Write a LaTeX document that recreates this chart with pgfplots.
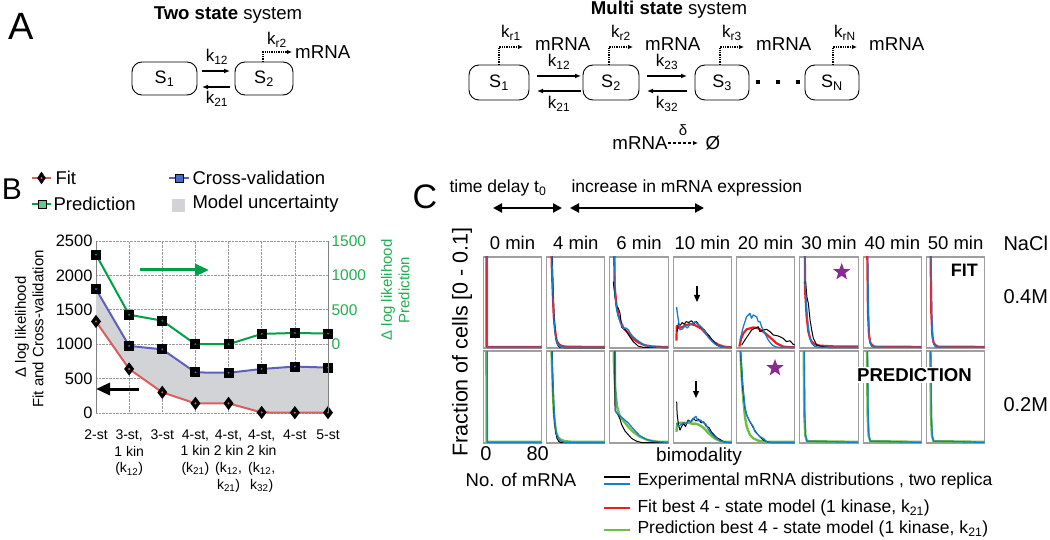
\documentclass[border=0pt]{standalone}
\usepackage{fontspec}
\setmainfont{Liberation Sans}
\usepackage{pgfplots}
\pgfplotsset{compat=1.18}
\usetikzlibrary{shapes.geometric,arrows.meta}
\definecolor{cgreen}{RGB}{0,160,70}
\definecolor{cgreenT}{RGB}{30,175,80}
\definecolor{cblue}{RGB}{95,95,190}
\definecolor{cred}{RGB}{215,95,95}
\definecolor{cgray}{RGB}{210,211,214}
\definecolor{eblue}{RGB}{20,125,205}
\definecolor{mred}{RGB}{235,30,35}
\definecolor{mgreen}{RGB}{110,190,70}
\definecolor{cpurple}{RGB}{140,40,150}
\newcommand\fs[1]{\fontsize{#1}{#1}\selectfont}
\pgfplotsset{
 cpan/.style={scale only axis, width=58.3pt, xmin=-4, xmax=86, ymin=0, ymax=0.1,
   xtick=\empty, ytick=\empty, axis line style={draw=gray!75, line width=1.1pt},
   anchor=south west, clip=true},
 ex1/.style={black, line width=1.0pt, line join=round},
 ex2/.style={eblue, line width=1.3pt, line join=round},
 fitl/.style={mred, line width=2.2pt, line join=round},
 prel/.style={mgreen, line width=2.4pt, line join=round},
}
\newcommand\cpanel[4]{\begin{axis}[cpan, at={(#1pt,-#2pt)}, height=#3pt]#4\end{axis}}
\begin{document}
\begin{tikzpicture}[x=1pt,y=-1pt]
\path[use as bounding box] (0,0) rectangle (1050,540);

% ---------------- Panel A ----------------
\node[font=\fs{38}] at (21.5,26) {A};
\node[font=\fs{18.6}] at (228,15) {\textbf{Two state} system};
\draw[rounded corners=10pt, line width=0.9pt] (132,62) rectangle (197,95);
\draw[rounded corners=10pt, line width=0.9pt] (235,62) rectangle (293,95);
\node[font=\fs{18}] at (164.5,79) {S\textsubscript{1}};
\node[font=\fs{18}] at (264,79) {S\textsubscript{2}};
\draw[line width=1.5pt, -{Latex[length=6pt,width=5pt]}] (202,71)--(230,71);
\draw[line width=1.5pt, -{Latex[length=6pt,width=5pt]}] (230,87)--(202,87);
\node[font=\fs{17}] at (217,57) {k\textsubscript{12}};
\node[font=\fs{17}] at (217,99) {k\textsubscript{21}};
\draw[densely dotted, line width=1.3pt, -{Latex[length=5pt,width=4.5pt]}] (263,62)--(263,52)--(292,52);
\node[font=\fs{17}] at (277,40) {k\textsubscript{r2}};
\node[font=\fs{18.7}, anchor=west, inner sep=0pt] at (295,52) {mRNA};

\node[font=\fs{18.6}] at (669,10) {\textbf{Multi state} system};
\foreach \a/\b/\t in {469/529/1,583/639/2,695/749/3}{
  \draw[rounded corners=10pt, line width=0.9pt] (\a,65) rectangle (\b,100);
  \node[font=\fs{18}] at ({(\a+\b)/2},82.5) {S\textsubscript{\t}};}
\draw[rounded corners=10pt, line width=0.9pt] (805,65) rectangle (859,100);
\node[font=\fs{18}] at (832,82.5) {S\textsubscript{N}};
\foreach \d in {758,778,798}{\fill (\d-2,80) rectangle (\d+2,84);}
\foreach \a/\b/\u/\l/\m in {537/581/12/21/559,647/687/23/32/667}{
  \draw[line width=1.5pt, -{Latex[length=6pt,width=5pt]}] (\a,76)--(\b,76);
  \draw[line width=1.5pt, -{Latex[length=6pt,width=5pt]}] (\b,91)--(\a,91);
  \node[font=\fs{17}] at (\m,62) {k\textsubscript{\u}};
  \node[font=\fs{17}] at (\m,104) {k\textsubscript{\l}};}
\foreach \x/\t in {499/1,609/2,720/3,833/N}{
  \draw[densely dotted, line width=1.3pt, -{Latex[length=5pt,width=4.5pt]}] (\x,65)--(\x,47)--(\x+24,47);
  \node[font=\fs{17}] at (\x+12,33) {k\textsubscript{r\t}};
  \node[font=\fs{18.7}, anchor=west, inner sep=0pt] at (\x+36,44) {mRNA};}
\node[font=\fs{18.7}] at (640,143) {mRNA};
\draw[dash pattern=on 3pt off 2pt, line width=1.3pt, -{Latex[length=5pt,width=4.5pt]}] (668,143)--(698,143);
\node[font=\fs{15}] at (683,130) {δ};
\node[font=\fs{18.7}] at (713,143) {Ø};

% ---------------- Panel B ----------------
\node[font=\fs{30}] at (12,189) {B};
\draw[cred, line width=2pt] (32,178)--(51,178);
\filldraw[black] (41.5,172)--(45.5,178)--(41.5,184)--(37.5,178)--cycle;
\fill[cred] (41.5,178) circle (1.2);
\node[font=\fs{18.5}, anchor=west] at (52,178) {Fit};
\draw[cgreen, line width=2pt] (32,204)--(51,204);
\filldraw[fill=cgreen!60, draw=black, line width=0.8pt] (38,200) rectangle (46,208);
\node[font=\fs{18.5}, anchor=west] at (50,204) {Prediction};
\draw[cblue, line width=2pt] (169,178)--(189,178);
\filldraw[fill=cblue!60!eblue, draw=black, line width=0.8pt] (175,174) rectangle (183,182);
\node[font=\fs{18.5}, anchor=west] at (189,178) {Cross-validation};
\fill[cgray] (172,199) rectangle (185,212);
\node[font=\fs{18.5}, anchor=west] at (189,204) {Model uncertainty};

\begin{axis}[at={(96pt,-413pt)}, anchor=south west, scale only axis, width=232pt, height=172pt,
  xmin=0, xmax=7, ymin=0, ymax=2500,
  axis x line*=bottom, axis y line*=left,
  x axis line style={draw=none}, y axis line style={draw=gray, line width=0.9pt, -},
  xtick={0,...,7}, ytick={0,500,...,2500},
  xticklabels={{2-st},{3-st,\\1 kin\\(k\textsubscript{12})},{3-st},{4-st,\\1 kin\\(k\textsubscript{21})},{4-st,\\2 kin\\(k\textsubscript{12},\\k\textsubscript{21})},{4-st,\\2 kin\\(k\textsubscript{12},\\k\textsubscript{32})},{4-st},{5-st}},
  xticklabel style={align=center, font=\fontsize{14}{16.8}\selectfont, yshift=-13pt},
  yticklabel style={font=\fs{16.5}},
  /pgf/number format/assume math mode=true, /pgf/number format/1000 sep={},
  grid=major, grid style={densely dotted, gray!80, line width=0.7pt},
  major tick length=0pt, clip=false]
\addplot[fill=cgray, draw=none] coordinates {(0,1800) (1,975) (2,925) (3,590) (4,585) (5,640) (6,675) (7,660) (7,5) (6,5) (5,8) (4,140) (3,140) (2,300) (1,640) (0,1330)};
\addplot[cred, line width=2pt, mark=diamond*, mark size=5pt, mark options={fill=black, draw=black}] coordinates {(0,1330) (1,640) (2,300) (3,140) (4,140) (5,8) (6,5) (7,5)};
\addplot[only marks, mark=*, mark size=0.8pt, cred] coordinates {(0,1330) (1,640) (2,300) (3,140) (4,140) (5,8) (6,5) (7,5)};
\addplot[cblue, line width=2pt, mark=square*, mark size=4pt, mark options={fill=black, draw=black}] coordinates {(0,1800) (1,975) (2,925) (3,590) (4,585) (5,640) (6,675) (7,660)};
\addplot[only marks, mark=*, mark size=0.7pt, cblue] coordinates {(0,1800) (1,975) (2,925) (3,590) (4,585) (5,640) (6,675) (7,660)};
\end{axis}
\begin{axis}[at={(96pt,-413pt)}, anchor=south west, scale only axis, width=232pt, height=172pt,
  xmin=0, xmax=7, ymin=-1000, ymax=1500,
  axis y line*=right, axis x line=none,
  y axis line style={draw=gray, line width=0.9pt, -},
  ytick={0,500,1000,1500}, yticklabel style={font=\fs{15.5}, text=cgreenT},
  /pgf/number format/assume math mode=true, /pgf/number format/1000 sep={},
  major tick length=0pt, clip=false]
\addplot[cgreen, line width=2pt, mark=square*, mark size=4pt, mark options={fill=black, draw=black}] coordinates {(0,1302) (1,428) (2,342) (3,0) (4,0) (5,150) (6,163) (7,155)};
\addplot[only marks, mark=*, mark size=0.7pt, cgreen] coordinates {(0,1302) (1,428) (2,342) (3,0) (4,0) (5,150) (6,163) (7,155)};
\end{axis}
\draw[cgreen, line width=3pt, -{Triangle[length=14pt,width=12pt]}] (140,270)--(209,270);
\draw[black, line width=3pt, -{Triangle[length=14pt,width=12pt]}] (139,389)--(96,389);
\node[rotate=90, font=\fs{15}] at (22,327) {Δ log likelihood};
\node[rotate=90, font=\fs{15}] at (38,329) {Fit and Cross-validation};
\node[rotate=90, font=\fs{15}, text=cgreenT] at (388,290) {Δ log likelihood};
\node[rotate=90, font=\fs{15}, text=cgreenT] at (404,290) {Prediction};

% ---------------- Panel C ----------------
\node[font=\fs{34}] at (425,197) {C};
\node[font=\fs{17.5}, anchor=west] at (446,188) {time delay t\textsubscript{0}};
\node[font=\fs{17.5}, anchor=west] at (568,188) {increase in mRNA expression};
\draw[line width=2.2pt, {Triangle[length=9pt,width=9pt]}-{Triangle[length=9pt,width=9pt]}] (493,208)--(562,208);
\draw[line width=2.2pt, {Triangle[length=9pt,width=9pt]}-{Triangle[length=9pt,width=9pt]}] (570,208)--(704,208);
\foreach \x/\t in {483.3/0,546.6/4,609.9/6,673.2/10,736.5/20,799.8/30,863.1/40,926.4/50}{
  \node[font=\fs{18.5}] at (\x+29.2,243) {\t\ min};}
\node[font=\fs{20}, anchor=west] at (1000,243) {NaCl};
\node[font=\fs{20}, anchor=west] at (1000,297) {0.4M};
\node[font=\fs{20}, anchor=west] at (1000,405) {0.2M};

% top row (FIT)
\cpanel{483.3}{348}{91}{
\addplot[fitl] coordinates {(0,0.5) (1,0.0012) (86,0.0012)};
\addplot[ex2] coordinates {(1.5,0.5) (2.5,0.0007) (86,0.0007)};}
\cpanel{546.6}{348}{91}{
\addplot[fitl] coordinates {(0,0.5) (3,0.12) (4,0.09) (5.5,0.06) (7,0.035) (9,0.02) (11,0.01) (13,0.006) (16,0.0035) (20,0.002) (30,0.0013) (86,0.0012)};
\addplot[ex1] coordinates {(1.5,0.5) (4,0.12) (5,0.09) (6.5,0.05) (8,0.028) (9.5,0.015) (11.5,0.006) (14,0.002) (17,0.0003) (86,0)};
\addplot[ex2] coordinates {(1,0.5) (3.5,0.12) (4.5,0.09) (6,0.055) (7.5,0.03) (9,0.018) (11,0.008) (13,0.004) (16,0.0015) (20,0.0007) (86,0.0007)};}
\cpanel{609.9}{348}{91}{
\addplot[fitl] coordinates {(0,0.5) (3,0.07) (6,0.048) (9,0.036) (13,0.028) (17,0.022) (21,0.019) (26,0.015) (32,0.01) (40,0.006) (50,0.003) (60,0.0018) (75,0.0012) (86,0.0012)};
\addplot[ex1] coordinates {(1.3,0.073) (3.9,0.056) (6.4,0.044) (9,0.044) (11.6,0.038) (14.1,0.023) (19.3,0.020) (21.8,0.018) (27,0.012) (32,0.007) (39.8,0.002) (47.5,0.0007) (86,0.0005)};
\addplot[ex2] coordinates {(0.5,0.5) (3.9,0.06) (6.4,0.042) (9,0.035) (12.6,0.027) (16.7,0.021) (20.8,0.022) (24.4,0.020) (29.5,0.014) (37.3,0.009) (47.5,0.004) (58,0.0015) (73,0.0007) (86,0.0007)};}
\cpanel{673.2}{348}{91}{
\addplot[fitl] coordinates {(1,0.008) (1.5,0.024) (5,0.022) (10,0.023) (15,0.025) (20,0.026) (25,0.026) (30,0.025) (35,0.023) (40,0.021) (45,0.017) (50,0.013) (55,0.009) (60,0.006) (66,0.0035) (74,0.0015) (86,0.0008)};
\addplot[ex1] coordinates {(2,0.018) (4,0.027) (7,0.025) (10,0.028) (13,0.026) (16,0.029) (20,0.028) (24,0.030) (28,0.027) (32,0.029) (36,0.025) (40,0.022) (44,0.02) (48,0.016) (52,0.013) (56,0.009) (60,0.006) (64,0.003) (70,0.001) (76,0.0005) (86,0.0005)};
\addplot[ex2] coordinates {(1.2,0.045) (3,0.035) (6.5,0.02) (10,0.021) (14,0.024) (18,0.022) (22,0.026) (26,0.027) (30,0.029) (34,0.026) (38,0.024) (42,0.021) (46,0.017) (50,0.012) (54,0.009) (58,0.006) (63,0.003) (70,0.001) (86,0.0007)};}
\cpanel{736.5}{348}{91}{
\addplot[fitl] coordinates {(0.4,0.0015) (3,0.01) (6.5,0.016) (11.6,0.0205) (21.9,0.0227) (29.6,0.0216) (37.3,0.018) (47.6,0.0117) (57.9,0.0051) (68.2,0.0015) (78.5,0.0009) (86,0.0008)};
\addplot[ex1] coordinates {(4,0.0033) (9,0.0088) (14.2,0.0143) (19.3,0.0198) (24.4,0.0216) (29.6,0.0234) (32.2,0.018) (37.3,0.0198) (42.5,0.0205) (47.6,0.018) (52.8,0.0143) (60.5,0.0132) (68.2,0.0106) (73.3,0.007) (78.5,0.008) (83.6,0.004) (86,0.0033)};
\addplot[ex2] coordinates {(1.4,0.0088) (6.5,0.0234) (11.6,0.0344) (16.8,0.038) (19.3,0.0326) (21.9,0.0363) (27,0.0344) (29.6,0.0289) (32.2,0.0289) (34.7,0.0234) (39.9,0.0161) (45,0.0088) (50.2,0.004) (55.3,0.0015) (60,0.0007) (86,0.0007)};}
\cpanel{799.8}{348}{91}{
\addplot[fitl] coordinates {(0.5,0.5) (4.1,0.064) (6.6,0.034) (9.2,0.018) (11.8,0.0106) (14.3,0.007) (19.5,0.004) (27,0.0026) (47.8,0.0018) (86,0.0018)};
\addplot[ex1] coordinates {(2.5,0.071) (5,0.073) (7,0.056) (9.2,0.049) (11.8,0.031) (14.3,0.020) (16.9,0.0106) (19.5,0.007) (22,0.0033) (27.2,0.0022) (32.4,0.0015) (40,0.0005) (86,0.0005)};
\addplot[ex2] coordinates {(1,0.5) (4.1,0.071) (6.6,0.042) (9.2,0.022) (11.8,0.0106) (14.3,0.0051) (19.5,0.0015) (27,0.0007) (86,0.0007)};}
\cpanel{863.1}{348}{91}{
\addplot[fitl] coordinates {(0,0.5) (2.5,0.1) (3.5,0.04) (5,0.015) (7,0.006) (10,0.003) (14,0.0015) (86,0.0012)};
\addplot[ex2] coordinates {(1,0.5) (3.2,0.1) (4.2,0.04) (5.5,0.012) (7.5,0.004) (10,0.001) (86,0.0007)};}
\cpanel{926.4}{348}{91}{
\addplot[fitl] coordinates {(0,0.5) (2.5,0.1) (3.5,0.04) (5,0.015) (7,0.006) (10,0.003) (14,0.0015) (86,0.0012)};
\addplot[ex2] coordinates {(1,0.5) (3.2,0.1) (4.2,0.04) (5.5,0.012) (7.5,0.004) (10,0.001) (86,0.0007)};}

% bottom row (PREDICTION)
\begin{axis}[cpan, at={(483.3pt,-443pt)}, height=92pt, xtick={0,80}, xticklabels={0,80},
  major tick length=0pt, xticklabel style={font=\fs{20}}]
\addplot[prel] coordinates {(0,0.5) (1,0.0012) (86,0.0012)};
\addplot[ex2] coordinates {(1.5,0.5) (2.3,0.0007) (86,0.0007)};
\end{axis}
\cpanel{546.6}{443}{92}{
\addplot[prel] coordinates {(0,0.5) (3,0.12) (4,0.09) (5.5,0.06) (7,0.035) (9,0.02) (11,0.011) (14,0.006) (18,0.0035) (24,0.002) (35,0.0013) (86,0.0012)};
\addplot[ex1] coordinates {(1.5,0.5) (4,0.12) (5,0.08) (6.5,0.045) (8,0.025) (10,0.012) (12,0.005) (15,0.0015) (18,0.0004) (86,0.0004)};
\addplot[ex2] coordinates {(1,0.5) (3.5,0.12) (4.5,0.09) (6,0.06) (7.5,0.035) (9,0.02) (11,0.01) (14,0.005) (18,0.002) (24,0.0007) (86,0.0007)};}
\cpanel{609.9}{443}{92}{
\addplot[prel] coordinates {(0,0.5) (1,0.2) (2,0.09) (4,0.06) (7,0.04) (11,0.03) (17,0.024) (24,0.018) (32,0.012) (42,0.007) (55,0.003) (70,0.0014) (86,0.0012)};
\addplot[ex1] coordinates {(1,0.5) (3.9,0.035) (6.4,0.033) (9,0.03) (11.6,0.026) (14.1,0.02) (19.3,0.013) (24.4,0.009) (29.5,0.005) (37,0.002) (45,0.0005) (86,0.0005)};
\addplot[ex2] coordinates {(0.5,0.5) (5,0.034) (9,0.031) (14,0.028) (19,0.025) (24,0.022) (29,0.018) (35,0.013) (42,0.008) (52,0.004) (65,0.0015) (86,0.0007)};}
\cpanel{673.2}{443}{92}{
\addplot[prel] coordinates {(1,0.012) (2,0.02) (5,0.022) (10,0.022) (15,0.022) (20,0.022) (25,0.021) (30,0.021) (35,0.02) (40,0.018) (45,0.015) (50,0.011) (55,0.008) (60,0.005) (66,0.003) (74,0.0014) (86,0.0012)};
\addplot[ex1] coordinates {(1.4,0.045) (2,0.032) (4,0.02) (6.5,0.014) (9,0.018) (12,0.021) (15,0.018) (19,0.025) (23,0.023) (27,0.027) (31,0.024) (35,0.026) (39,0.022) (43,0.023) (47,0.018) (51,0.017) (55,0.012) (59,0.009) (63,0.006) (68,0.004) (73,0.0015) (80,0.0005) (86,0.0005)};
\addplot[ex2] coordinates {(1.2,0.022) (4,0.018) (8,0.02) (12,0.022) (16,0.021) (20,0.024) (24,0.023) (28,0.027) (31,0.029) (34,0.024) (38,0.025) (42,0.022) (46,0.021) (50,0.015) (54,0.011) (58,0.008) (63,0.005) (68,0.0025) (75,0.001) (86,0.0007)};}
\cpanel{736.5}{443}{92}{
\addplot[prel] coordinates {(0,0.5) (1.4,0.11) (4,0.072) (6.5,0.047) (9,0.029) (11.6,0.018) (16.8,0.0087) (21.9,0.0051) (29.6,0.0025) (42.5,0.0014) (86,0.0012)};
\addplot[ex1] coordinates {(1,0.5) (2,0.1) (5.5,0.06) (9,0.038) (12,0.03) (16,0.024) (20,0.019) (24,0.014) (28,0.01) (33,0.006) (38,0.003) (44,0.001) (50,0.0005) (86,0.0005)};
\addplot[ex2] coordinates {(0.5,0.5) (1.4,0.11) (5.5,0.065) (9,0.0395) (11.6,0.0304) (16.8,0.0232) (21.9,0.0178) (24.5,0.0123) (29.6,0.0087) (32.2,0.0069) (37.3,0.005) (42.5,0.0014) (48,0.0007) (86,0.0007)};}
\cpanel{799.8}{443}{92}{
\addplot[prel] coordinates {(0,0.5) (2,0.1) (3,0.03) (4.5,0.008) (7,0.002) (86,0.0012)};
\addplot[ex2] coordinates {(1,0.5) (2.8,0.1) (3.8,0.03) (5,0.008) (7,0.002) (86,0.0007)};}
\cpanel{863.1}{443}{92}{
\addplot[prel] coordinates {(0,0.5) (2,0.1) (3,0.03) (4.5,0.008) (7,0.002) (86,0.0012)};
\addplot[ex2] coordinates {(1,0.5) (2.8,0.1) (3.8,0.03) (5,0.008) (7,0.002) (86,0.0007)};}
\cpanel{926.4}{443}{92}{
\addplot[prel] coordinates {(0,0.5) (2,0.1) (3,0.03) (4.5,0.008) (7,0.002) (86,0.0012)};
\addplot[ex2] coordinates {(1,0.5) (2.8,0.1) (3.8,0.03) (5,0.008) (7,0.002) (86,0.0007)};}

% annotations C
\node[font=\bfseries\fs{18}, anchor=east, inner sep=0pt] at (978,270) {FIT};
\node[font=\bfseries\fs{18.6}, fill=white, inner sep=1.5pt] at (914.5,375) {PREDICTION};
\node[star, star points=5, star point ratio=2.4, fill=cpurple, inner sep=0pt, minimum size=18pt] at (841.7,272) {};
\node[star, star points=5, star point ratio=2.4, fill=cpurple, inner sep=0pt, minimum size=18pt] at (775,368) {};
\draw[line width=1.3pt, -{Triangle[length=7pt,width=6pt]}] (697,286)--(697,302);
\draw[line width=1.3pt, -{Triangle[length=7pt,width=6pt]}] (696,381)--(696,398);
\node[font=\fs{19}] at (699,457) {bimodality};
\node[rotate=90, font=\fs{21.5}] at (462,342) {Fraction of cells [0 - 0.1]};
\node[font=\fs{18.5}] at (521,480) {No. of mRNA};
\draw[black, line width=1.2pt] (604,477)--(630,477);
\draw[eblue, line width=1.4pt] (604,484)--(630,484);
\node[font=\fs{17.5}, anchor=west] at (634,481) {Experimental mRNA distributions , two replica};
\draw[mred, line width=2.6pt] (604,508)--(630,508);
\node[font=\fs{17.5}, anchor=west] at (634,508) {Fit best 4 - state model (1 kinase, k\textsubscript{21})};
\draw[mgreen, line width=2.6pt] (604,530)--(630,530);
\node[font=\fs{17.5}, anchor=west] at (634,529) {Prediction best 4 - state model (1 kinase, k\textsubscript{21})};
\end{tikzpicture}
\end{document}
